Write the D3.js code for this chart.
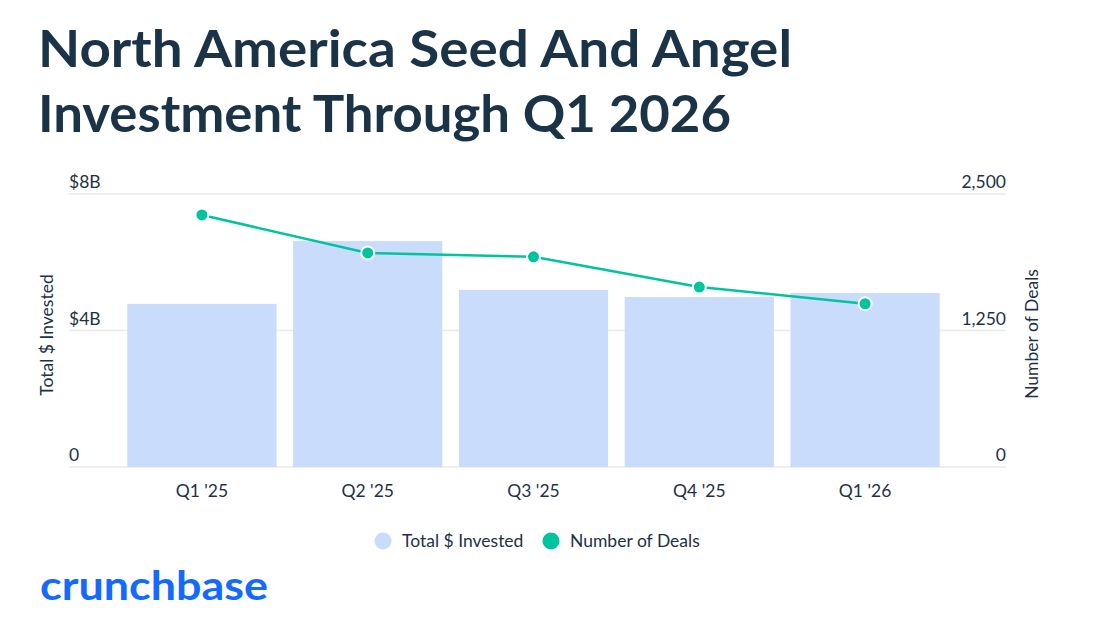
<!DOCTYPE html>
<html>
<head>
<meta charset="utf-8">
<script src="https://cdn.jsdelivr.net/npm/d3@7"></script>
<style>
  body { margin: 0; background: #fff; }
  svg text { font-family: Lato, "Noto Sans", sans-serif; }
</style>
</head>
<body>
<svg id="chart"></svg>
<script>
// --------------------
// Data
// --------------------
const quarters = ["Q1 '25", "Q2 '25", "Q3 '25", "Q4 '25", "Q1 '26"];
const invested = [4.78, 6.62, 5.19, 4.98, 5.10];   // $B
const deals = [2308, 1960, 1925, 1648, 1495];
const leftTicks = [0, 4, 8];
const rightTicks = [0, 1250, 2500];
const titleLines = ["North America Seed And Angel", "Investment Through Q1 2026"];

// --------------------
// Basic setup
// --------------------
const width = 1093;
const height = 635;
const barColor = "#cadcfc";
const lineColor = "#00c49f";
const textColor = "#1d3245";

const svg = d3.select("#chart")
  .attr("width", width)
  .attr("height", height);

// title (stretched to the width the original font takes)
const titleWidths = [754, 693];
svg.selectAll("text.title")
  .data(titleLines)
  .join("text")
    .attr("class", "title")
    .attr("x", 38)
    .attr("y", (d, i) => 67 + i * 65)
    .attr("font-size", 52)
    .attr("font-weight", 700)
    .attr("fill", "#1b3347")
    .attr("textLength", (d, i) => titleWidths[i])
    .attr("lengthAdjust", "spacingAndGlyphs")
    .text(d => d);

// --------------------
// Scales
// --------------------
const x = d3.scaleBand()
  .domain(quarters)
  .range([119, 948])
  .paddingInner(0.1)
  .paddingOuter(0.05);

const yL = d3.scaleLinear().domain([0, 8]).range([467, 194]);
const yR = d3.scaleLinear().domain([0, 2500]).range([467, 194]);

// gridlines
svg.append("g")
  .selectAll("line")
  .data(leftTicks)
  .join("line")
    .attr("x1", 69)
    .attr("x2", 1006)
    .attr("y1", d => yL(d))
    .attr("y2", d => yL(d))
    .attr("stroke", "#e9eaec")
    .attr("stroke-width", 1.5);

// left tick labels (sit above the gridline)
svg.append("g")
  .selectAll("text")
  .data(leftTicks)
  .join("text")
    .attr("x", 69)
    .attr("y", d => yL(d) - 6)
    .attr("font-size", 17.5)
    .attr("fill", textColor)
    .text(d => d === 0 ? "0" : `$${d}B`);

svg.append("g")
  .selectAll("text")
  .data(rightTicks)
  .join("text")
    .attr("x", 1006)
    .attr("y", d => yR(d) - 6)
    .attr("text-anchor", "end")
    .attr("font-size", 17.5)
    .attr("fill", textColor)
    .text(d => d3.format(",")(d));

// axis titles
svg.append("text")
  .attr("transform", "translate(53,335) rotate(-90)")
  .attr("text-anchor", "middle")
  .attr("font-size", 17.5)
  .attr("fill", textColor)
  .text("Total $ Invested");

svg.append("text")
  .attr("transform", "translate(1038,334) rotate(-90)")
  .attr("text-anchor", "middle")
  .attr("font-size", 17.5)
  .attr("fill", textColor)
  .text("Number of Deals");

// --------------------
// Bars
// --------------------
svg.append("g")
  .selectAll("rect")
  .data(quarters)
  .join("rect")
    .attr("x", d => x(d))
    .attr("width", x.bandwidth())
    .attr("y", (d, i) => yL(invested[i]))
    .attr("height", (d, i) => yL(0) - yL(invested[i]))
    .attr("fill", barColor);

// x labels
svg.append("g")
  .selectAll("text")
  .data(quarters)
  .join("text")
    .attr("x", d => x(d) + x.bandwidth() / 2)
    .attr("y", 497)
    .attr("text-anchor", "middle")
    .attr("font-size", 17.5)
    .attr("fill", textColor)
    .text(d => d);

// --------------------
// Line + dots
// --------------------
const line = d3.line()
  .x((d, i) => x(quarters[i]) + x.bandwidth() / 2)
  .y(d => yR(d));

svg.append("path")
  .datum(deals)
  .attr("d", line)
  .attr("fill", "none")
  .attr("stroke", lineColor)
  .attr("stroke-width", 2.5);

svg.append("g")
  .selectAll("circle")
  .data(deals)
  .join("circle")
    .attr("cx", (d, i) => x(quarters[i]) + x.bandwidth() / 2)
    .attr("cy", d => yR(d))
    .attr("r", 6.5)
    .attr("fill", lineColor)
    .attr("stroke", "#fff")
    .attr("stroke-width", 2);

// --------------------
// Legend
// --------------------
const legend = [
  { label: "Total $ Invested", color: barColor, x: 383 },
  { label: "Number of Deals", color: lineColor, x: 551 }
];
const lg = svg.append("g")
  .selectAll("g")
  .data(legend)
  .join("g")
    .attr("transform", d => `translate(${d.x},541)`);
lg.append("circle").attr("r", 8.5).attr("fill", d => d.color);
lg.append("text")
  .attr("x", 19)
  .attr("y", 6)
  .attr("font-size", 17.5)
  .attr("fill", textColor)
  .text(d => d.label);

// logo
svg.append("text")
  .attr("x", 40)
  .attr("y", 600)
  .attr("font-size", 40)
  .attr("font-weight", 700)
  .attr("fill", "#146aff")
  .attr("textLength", 228)
  .attr("lengthAdjust", "spacingAndGlyphs")
  .text("crunchbase");
</script>
</body>
</html>
